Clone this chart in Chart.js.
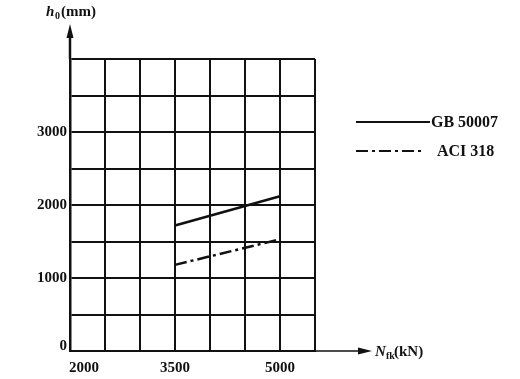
<!DOCTYPE html>
<html><head><meta charset="utf-8">
<script src="https://cdn.jsdelivr.net/npm/chart.js@4/dist/chart.umd.min.js"></script>
<style>html,body{margin:0;padding:0;background:#fff}#c{display:block}</style>
</head><body>
<canvas id="c" width="520" height="379"></canvas>
<script>
const seriesNames = ["GB 50007", "ACI 318"];
const nfk = [3500, 5000];
const gb50007 = [1720, 2120];
const aci318 = [1180, 1530];
const xTicks = [2000, 3500, 5000];
const yTicks = [0, 1000, 2000, 3000];

const FONT = '"Liberation Serif", "Times New Roman", serif';

const deco = {
  id: 'deco',
  afterDraw(chart) {
    const ctx = chart.ctx, xs = chart.scales.x, ys = chart.scales.y, a = chart.chartArea;
    ctx.save();
    ctx.fillStyle = '#111'; ctx.strokeStyle = '#111';
    // axes arrows
    ctx.lineWidth = 2.5;
    ctx.beginPath(); ctx.moveTo(a.left, a.top); ctx.lineTo(a.left, 34); ctx.stroke();
    ctx.beginPath(); ctx.moveTo(a.left, 24); ctx.lineTo(a.left-3.5, 38); ctx.lineTo(a.left+3.5, 38); ctx.closePath(); ctx.fill();
    ctx.lineWidth = 1.5;
    ctx.beginPath(); ctx.moveTo(a.right, a.bottom); ctx.lineTo(362, a.bottom); ctx.stroke();
    ctx.beginPath(); ctx.moveTo(372, a.bottom); ctx.lineTo(358, a.bottom-3.5); ctx.lineTo(358, a.bottom+3.5); ctx.closePath(); ctx.fill();
    // tick labels
    ctx.font = 'bold 15px ' + FONT;
    ctx.textBaseline = 'middle';
    ctx.textAlign = 'right';
    yTicks.forEach(v => ctx.fillText(String(v), a.left - 3, ys.getPixelForValue(v) - (v === 0 ? 5 : 0)));
    ctx.textAlign = 'center';
    xTicks.forEach((v, i) => ctx.fillText(String(v), xs.getPixelForValue(v) + (i === 0 ? 14 : 0), a.bottom + 17));
    // axis titles
    ctx.textAlign = 'left';
    ctx.font = 'italic bold 15px ' + FONT;
    ctx.fillText('h', 46, 12);
    ctx.font = 'bold 10px ' + FONT;
    ctx.fillText('0', 55, 16);
    ctx.font = 'bold 15px ' + FONT;
    ctx.fillText('(mm)', 61, 12);
    ctx.font = 'italic bold 15px ' + FONT;
    ctx.fillText('N', 375, a.bottom + 1);
    ctx.font = 'bold 10px ' + FONT;
    ctx.fillText('fk', 386, a.bottom + 5);
    ctx.font = 'bold 15px ' + FONT;
    ctx.fillText('(kN)', 394, a.bottom + 1);
    // legend
    const ds = chart.data.datasets;
    const rows = [{y: 122, x0: 356, x1: 430, tx: 431}, {y: 151, x0: 356, x1: 424, tx: 437}];
    ds.forEach((d, i) => {
      const r = rows[i];
      ctx.strokeStyle = d.borderColor; ctx.lineWidth = 2;
      ctx.setLineDash(d.borderDash || []);
      ctx.beginPath(); ctx.moveTo(r.x0, r.y); ctx.lineTo(r.x1, r.y); ctx.stroke();
      ctx.setLineDash([]);
      ctx.font = 'bold 16px ' + FONT; ctx.textAlign = 'left';
      ctx.fillText(d.label, r.tx, r.y + 1);
    });
    ctx.restore();
  }
};

new Chart(document.getElementById('c'), {
  type: 'scatter',
  data: {
    datasets: [
      { label: seriesNames[0], data: nfk.map((x, i) => ({x, y: gb50007[i]})), showLine: true,
        borderColor: '#111', borderWidth: 2.5, pointRadius: 0, fill: false },
      { label: seriesNames[1], data: nfk.map((x, i) => ({x, y: aci318[i]})), showLine: true,
        borderColor: '#111', borderWidth: 2.5, borderDash: [12, 4, 3, 4], pointRadius: 0, fill: false }
    ]
  },
  options: {
    responsive: false, animation: false, events: [],
    layout: { padding: { left: 70, top: 59, right: 205, bottom: 28 } },
    plugins: { legend: { display: false }, tooltip: { enabled: false } },
    scales: {
      x: { type: 'linear', min: 2000, max: 5500,
           ticks: { display: false, stepSize: 500 },
           grid: { color: '#111', lineWidth: 2, drawTicks: false },
           border: { color: '#111', width: 2 } },
      y: { type: 'linear', min: 0, max: 4000,
           ticks: { display: false, stepSize: 500 },
           grid: { color: '#111', lineWidth: 2, drawTicks: false },
           border: { color: '#111', width: 2.5 } }
    }
  },
  plugins: [deco]
});
</script>
</body></html>
